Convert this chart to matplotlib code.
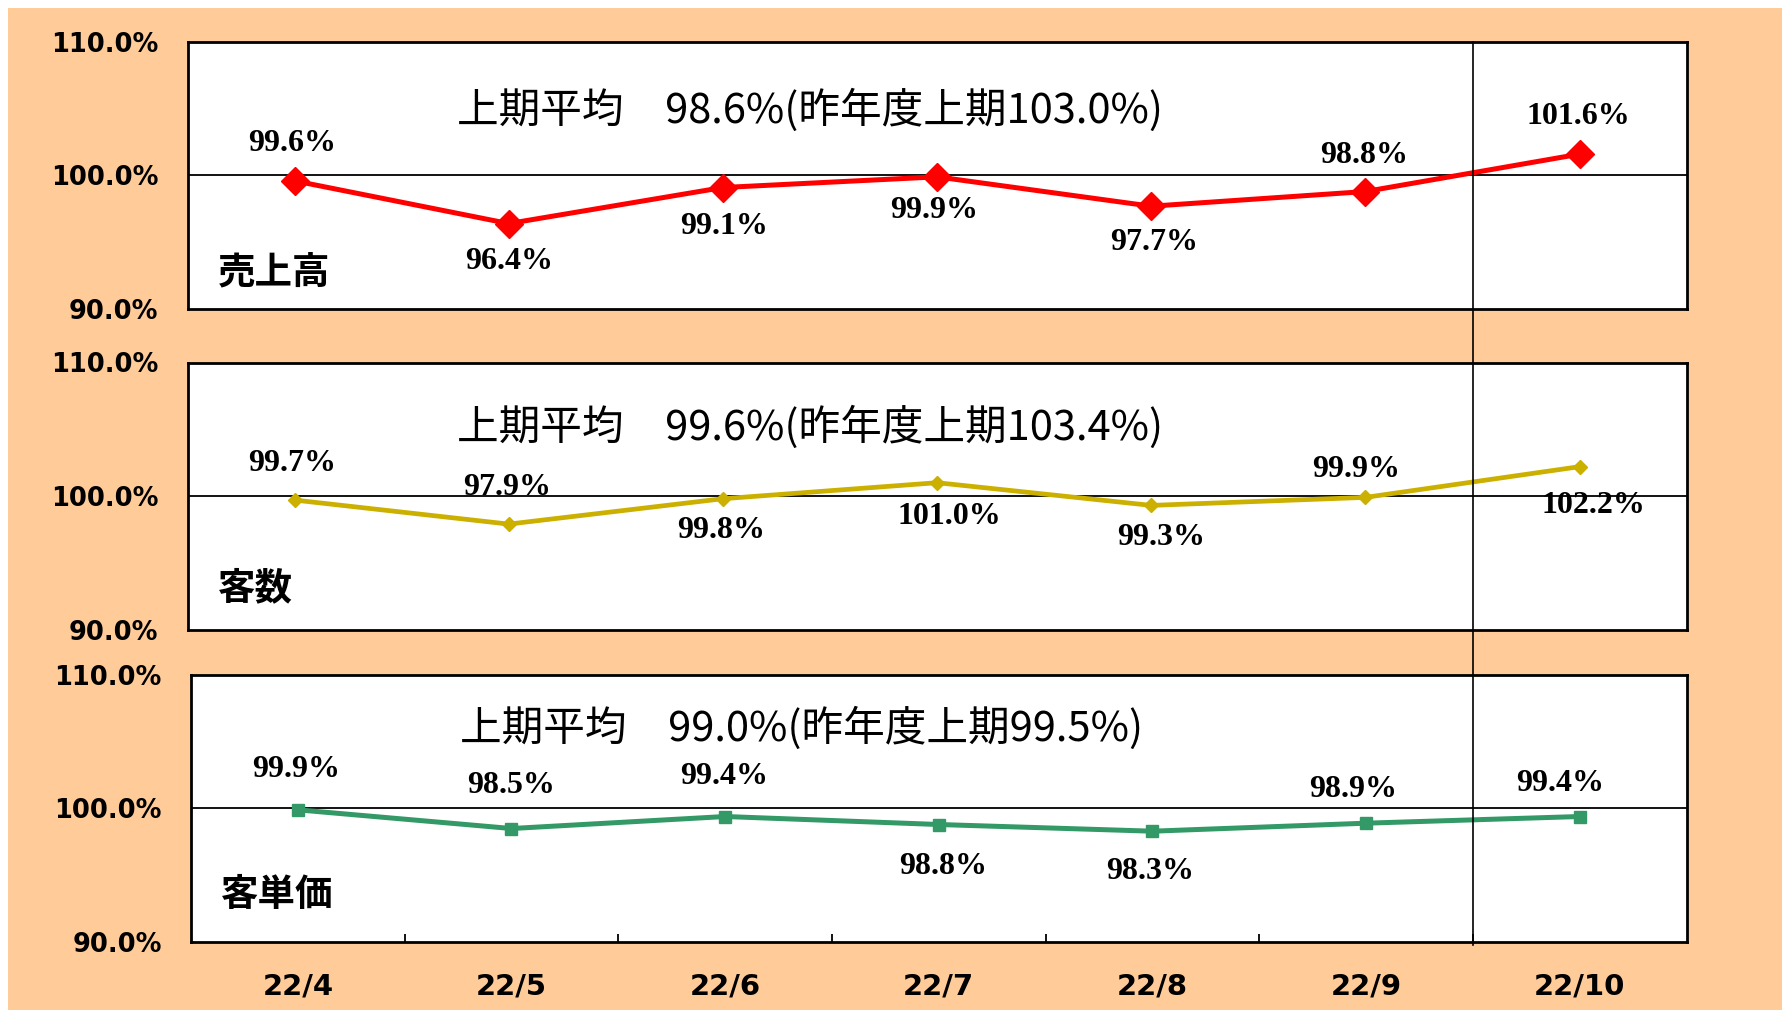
import matplotlib
matplotlib.use("Agg")
import matplotlib.pyplot as plt
from matplotlib.patches import Rectangle
from matplotlib.lines import Line2D
import matplotlib.transforms as mtransforms

plt.rcParams['font.family'] = ['Noto Sans CJK JP', 'DejaVu Sans']

# データ
months = ['22/4', '22/5', '22/6', '22/7', '22/8', '22/9', '22/10']
uriage = [99.6, 96.4, 99.1, 99.9, 97.7, 98.8, 101.6]
kyakusu = [99.7, 97.9, 99.8, 101.0, 99.3, 99.9, 102.2]
tanka = [99.9, 98.5, 99.4, 98.8, 98.3, 98.9, 99.4]

names = ['売上高', '客数', '客単価']
avg_now = [98.6, 99.6, 99.0]
avg_prev = [103.0, 103.4, 99.5]
yticks = [90, 100, 110]

# 見た目の設定
BG = '#FFCC99'
colors = ['#FF0000', '#CCB000', '#339966']
markers = ['D', 'D', 's']
msizes = [14, 7, 9]
lwidths = [3.6, 3.4, 3.6]

# ラベルのずらし量 (pt)
label_dx = [[-2, 0, 1, -2, 2, -1, -1],
            [-2, -1, -1, 9, 7, -7, 10],
            [-1, 0, -1, 3, -2, -9, -14]]
label_dy = [[27, -27, -28, -24, -26, 26, 27],
            [26, 26, -23, -24, -23, 20, -28],
            [29, 31, 29, -30, -29, 24, 24]]

W, H = 1782, 1010
fig = plt.figure(figsize=(W / 100, H / 100), dpi=100, facecolor='white')
fig.add_artist(Rectangle((8 / W, 0), 1, 1 - 8 / H, transform=fig.transFigure,
                         facecolor=BG, edgecolor='none', zorder=-1))

# [left, top, right, bottom] in pixels
boxes = [(187.5, 42, 1686.6, 309),
         (187.5, 362.5, 1686.6, 629.6),
         (191, 675, 1686.6, 942)]
title_y = [0.745, 0.757, 0.80]
name_y = [0.14, 0.157, 0.179]

series = [uriage, kyakusu, tanka]
x = list(range(len(months)))
axes = []
for i, (l, t, r, b) in enumerate(boxes):
    ax = fig.add_axes([l / W, 1 - b / H, (r - l) / W, (b - t) / H])
    axes.append(ax)
    ax.set_facecolor('white')
    ax.set_xlim(-0.5, len(months) - 0.5)
    ax.set_ylim(90, 110)
    ax.axhline(100, color='black', lw=1.3, zorder=1)
    for s in ax.spines.values():
        s.set_linewidth(2)
        s.set_color('black')

    vals = series[i]
    ax.plot(x, vals, color=colors[i], lw=lwidths[i], marker=markers[i],
            ms=msizes[i], mec=colors[i], zorder=3)
    for j, v in enumerate(vals):
        ax.annotate(f'{v:.1f}%', (x[j], v), xytext=(label_dx[i][j], label_dy[i][j]),
                    textcoords='offset points', ha='center', va='center',
                    fontsize=23, fontweight='bold', family='Liberation Serif', zorder=4)

    ax.text(0.18, title_y[i], f'上期平均　{avg_now[i]:.1f}%(昨年度上期{avg_prev[i]:.1f}%)',
            transform=ax.transAxes, ha='left', va='center', fontsize=30)
    ax.text(0.02, name_y[i], names[i], transform=ax.transAxes, ha='left', va='center',
            fontsize=27, fontweight='bold')

    ax.set_yticks(yticks)
    ax.set_yticklabels([f'{v:.1f}%' for v in yticks], fontsize=18.5, fontweight='bold',
                       family='DejaVu Sans')
    ax.tick_params(axis='y', length=0, pad=21)

    if i < 2:
        ax.set_xticks([])
    else:
        ax.set_xticks(x)
        ax.set_xticklabels(months, fontsize=21, fontweight='bold', family='DejaVu Sans')
        ax.set_xticks([k + 0.5 for k in x[:-1]], minor=True)
        ax.tick_params(axis='x', which='major', length=0, pad=22)
        ax.tick_params(axis='x', which='minor', direction='in', length=6, width=1.3)

# 22/9 と 22/10 の間の縦線
trans = mtransforms.blended_transform_factory(axes[2].transData, fig.transFigure)
fig.add_artist(Line2D([len(months) - 1.5] * 2, [1 - 42 / H, 1 - 945 / H],
                      transform=trans, color='black', lw=1.2, zorder=5))

fig.savefig('out.png', dpi=100, facecolor=fig.get_facecolor())
